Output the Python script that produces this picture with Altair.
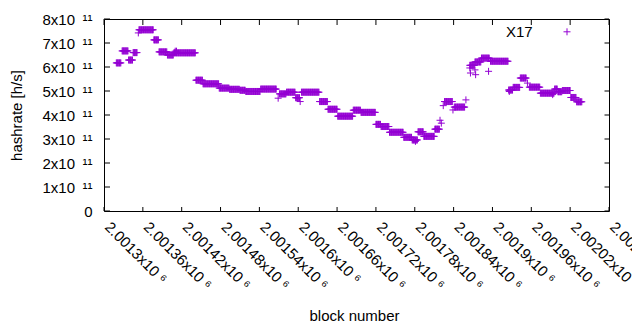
import altair as alt
import pandas as pd

# ---- data ----
# runs of consecutive blocks that share the same hashrate value
run_start = [2001319, 2001328, 2001338, 2001345, 2001354, 2001377, 2001385, 2001398,
             2001408, 2001442, 2001453, 2001478, 2001494, 2001510, 2001519, 2001542,
             2001571, 2001582, 2001596, 2001605, 2001633, 2001646, 2001661, 2001685,
             2001697, 2001720, 2001728, 2001741, 2001763, 2001776, 2001785, 2001794,
             2001811, 2001826, 2001841, 2001865, 2001873, 2001883, 2001897, 2001925,
             2001932, 2001943, 2001957, 2001974, 2001996, 2002001, 2002008, 2002021,
             2002030]
run_end = [2001326, 2001337, 2001344, 2001351, 2001376, 2001384, 2001397, 2001407,
           2001441, 2001452, 2001477, 2001493, 2001509, 2001518, 2001541, 2001566,
           2001581, 2001595, 2001602, 2001632, 2001645, 2001660, 2001684, 2001696,
           2001719, 2001727, 2001740, 2001762, 2001775, 2001784, 2001793, 2001810,
           2001818, 2001838, 2001857, 2001872, 2001882, 2001895, 2001924, 2001931,
           2001942, 2001952, 2001973, 2001995, 2002000, 2002007, 2002020, 2002029,
           2002038]
run_rate = [6.17e11, 6.67e11, 6.29e11, 6.60e11, 7.55e11, 7.13e11, 6.63e11, 6.50e11,
            6.59e11, 5.45e11, 5.30e11, 5.12e11, 5.07e11, 5.03e11, 4.98e11, 5.08e11,
            4.88e11, 4.95e11, 4.72e11, 4.95e11, 4.56e11, 4.24e11, 3.95e11, 4.20e11,
            4.11e11, 3.61e11, 3.52e11, 3.28e11, 3.07e11, 2.96e11, 3.30e11, 3.11e11,
            3.41e11, 4.56e11, 4.33e11, 6.07e11, 6.21e11, 6.37e11, 6.24e11, 5.04e11,
            5.15e11, 5.54e11, 5.16e11, 4.91e11, 5.08e11, 4.97e11, 5.02e11, 4.73e11,
            4.55e11]

# isolated blocks
single_block = [2001353, 2001410, 2001412, 2001569, 2001603, 2001781, 2001819, 2001821,
                2001824, 2001839, 2001859, 2001865, 2001866, 2001873, 2001874, 2001894,
                2001926, 2001954, 2001993]
single_rate = [7.42e11, 6.66e11, 6.66e11, 4.70e11, 4.56e11, 2.90e11, 3.78e11, 3.66e11,
               4.39e11, 4.21e11, 4.63e11, 5.96e11, 5.75e11, 5.88e11, 5.68e11, 5.82e11,
               4.98e11, 5.33e11, 4.85e11]

series_name = ["X17"]
x_ticks = [2001300 + 60 * i for i in range(14)]
y_ticks = [i * 1e11 for i in range(9)]

# ---- table ----
blocks, rates = [], []
for s, e, r in zip(run_start, run_end, run_rate):
    for b in range(s, e + 1):
        blocks.append(b)
        rates.append(r)
blocks += single_block
rates += single_rate
df = pd.DataFrame({"block": blocks, "hashrate": rates})

W, H = 505, 192
COLOR = "#9400D3"
FONT = "Liberation Sans"
PLUS = "M-1,0L1,0M0,-1L0,1"

x_scale = alt.Scale(domain=[2001300, 2002080], nice=False, zero=False)
y_scale = alt.Scale(domain=[0, 8e11], nice=False)

x_axis = alt.Axis(
    values=x_ticks, title="block number",
    labelExpr="format(datum.value/1e6, '.6~g') + 'x10 ⁶'",
    labelAngle=45, labelAlign="left", labelBaseline="middle",
    labelPadding=13, labelOffset=3, labelOverlap=False, labelFlush=False,
    titleX=250, titleY=109, titleAlign="center", titleBaseline="alphabetic",
)
y_axis = alt.Axis(
    values=y_ticks, title="hashrate [h/s]",
    labelExpr="datum.value == 0 ? '0' : format(round(datum.value/1e11), 'd') + 'x10\u2002¹¹'",
    labelPadding=12, labelBaseline="middle", labelOverlap=False, labelFlush=False,
    titleX=-88, titleY=96, titleAngle=-90, titleAlign="center", titleBaseline="middle",
)

points = alt.Chart(df).mark_point(
    shape=PLUS, size=49, filled=False, strokeWidth=1, color=COLOR, opacity=1
).encode(
    x=alt.X("block:Q", scale=x_scale, axis=x_axis),
    y=alt.Y("hashrate:Q", scale=y_scale, axis=y_axis),
)

xt = pd.DataFrame({"block": x_ticks})
yt = pd.DataFrame({"hashrate": y_ticks})

bottom_ticks = alt.Chart(xt).mark_rule(color="black", strokeWidth=1).encode(
    x=alt.X("block:Q", scale=x_scale, axis=x_axis), y=alt.value(H), y2=alt.value(H - 4))
top_ticks = alt.Chart(xt).mark_rule(color="black", strokeWidth=1).encode(
    x=alt.X("block:Q", scale=x_scale, axis=x_axis), y=alt.value(0), y2=alt.value(6))
left_ticks = alt.Chart(yt).mark_rule(color="black", strokeWidth=1).encode(
    y=alt.Y("hashrate:Q", scale=y_scale, axis=y_axis), x=alt.value(0), x2=alt.value(6))
right_ticks = alt.Chart(yt).mark_rule(color="black", strokeWidth=1).encode(
    y=alt.Y("hashrate:Q", scale=y_scale, axis=y_axis), x=alt.value(W), x2=alt.value(W - 4.5))

leg_df = pd.DataFrame({"name": series_name})
leg_text = alt.Chart(leg_df).mark_text(
    align="right", baseline="middle", font=FONT, fontSize=15, color="black"
).encode(text="name:N", x=alt.value(428.7), y=alt.value(12.6))
leg_sym = alt.Chart(leg_df).mark_point(
    shape=PLUS, size=49, filled=False, strokeWidth=1, color=COLOR, opacity=1
).encode(x=alt.value(463), y=alt.value(12.8))

chart = alt.layer(
    points, bottom_ticks, top_ticks, left_ticks, right_ticks, leg_text, leg_sym
).properties(
    width=W, height=H,
    background="white",
    autosize=alt.AutoSizeParams(type="none"),
    padding={"left": 96, "top": 11, "right": 23, "bottom": 111},
).configure_view(
    stroke="black", strokeWidth=1
).configure_axis(
    domain=False, ticks=False, grid=False,
    labelFont=FONT, labelFontSize=15, labelColor="black",
    titleFont=FONT, titleFontSize=15, titleColor="black", titleFontWeight="normal",
)

chart.save("out.html", embed_options={"renderer": "svg", "actions": False})
